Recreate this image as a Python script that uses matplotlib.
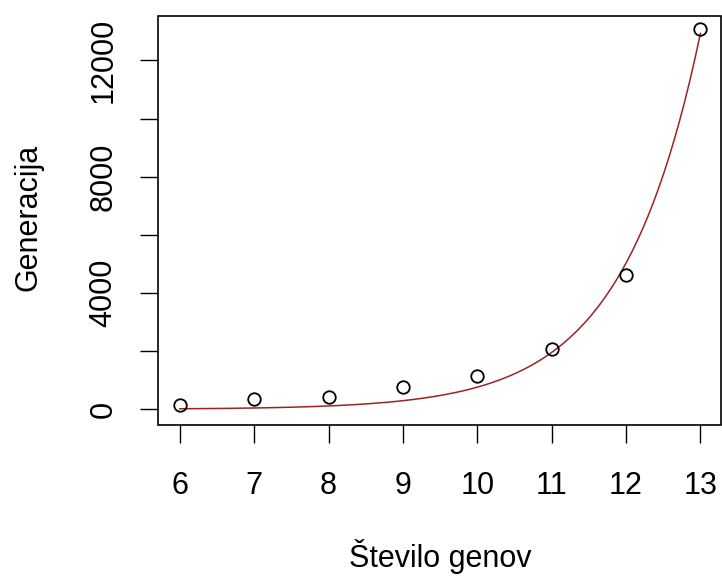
import numpy as np
import matplotlib
matplotlib.use("Agg")
import matplotlib.pyplot as plt
from matplotlib.patches import Rectangle

plt.rcParams['font.family'] = ['Liberation Sans', 'DejaVu Sans']

# Data
genes = [6, 7, 8, 9, 10, 11, 12, 13]
generations = [140, 345, 410, 755, 1155, 2075, 4610, 13080]

# Fitted exponential model y = a * exp(b * x) (parameters estimated from the curve)
fit_a = 0.0605
fit_b = 0.944

x_ticks = [6, 7, 8, 9, 10, 11, 12, 13]
y_ticks = [0, 2000, 4000, 6000, 8000, 10000, 12000]
y_labels = ['0', '', '4000', '', '8000', '', '12000']

W, H = 722, 581
fig = plt.figure(figsize=(W / 100, H / 100), dpi=100)
left, right, top, bottom = 157.5, 720.5, 16, 425
ax = fig.add_axes([left / W, 1 - bottom / H, (right - left) / W, (bottom - top) / H])

xs = np.linspace(min(genes), max(genes), 200)
ax.plot(xs, fit_a * np.exp(fit_b * xs), color='#9a2424', lw=1.1, zorder=2)
ax.plot(genes, generations, 'o', mfc='none', mec='black', mew=1.3, ms=9, zorder=3)

ax.set_xlim(5.70, 13.27)
ax.set_ylim(-540, 13525)

ax.set_xticks(x_ticks)
ax.set_xticklabels([str(v) for v in x_ticks])
ax.set_yticks(y_ticks)
ax.set_yticklabels(y_labels)

ax.tick_params(axis='x', length=13, width=1, pad=20, labelsize=22, direction='out')
ax.tick_params(axis='y', length=13, width=1, pad=15, labelsize=22, direction='out',
               labelrotation=90)
for lab in ax.get_yticklabels():
    lab.set_va('center')

for s in ['left', 'bottom', 'top', 'right']:
    ax.spines[s].set_visible(False)
ax.add_patch(Rectangle((0, 0), 1, 1, transform=ax.transAxes, fill=False,
                       edgecolor='black', lw=1.2, clip_on=False, zorder=5))

fig.text(440 / W, 1 - 556 / H, 'Število genov', ha='center', va='center', fontsize=22)
fig.text(29 / W, 1 - 217 / H, 'Generacija', ha='center', va='center', fontsize=22, rotation=90)

fig.savefig('out.png', dpi=100)
